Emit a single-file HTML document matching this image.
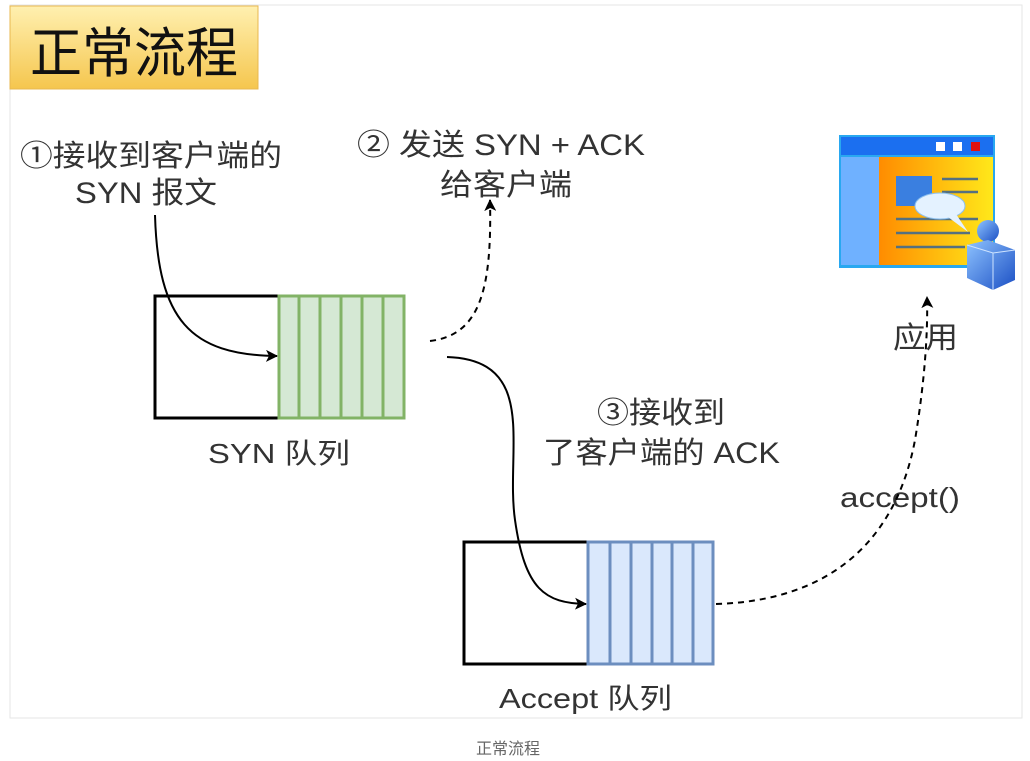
<!DOCTYPE html>
<html><head><meta charset="utf-8"><style>
html,body{margin:0;padding:0;background:#fff;width:1030px;height:761px;overflow:hidden}
svg{display:block}
text{font-family:"Liberation Sans","Noto Sans CJK SC",sans-serif;fill:#333}
</style></head><body>
<svg width="1030" height="761" viewBox="0 0 1030 761" xmlns="http://www.w3.org/2000/svg">
<defs>
<linearGradient id="tg" x1="0" y1="0" x2="0" y2="1"><stop offset="0" stop-color="#fff0b0"/><stop offset="1" stop-color="#f5c64e"/></linearGradient>
<linearGradient id="og" x1="0" y1="0" x2="1" y2="0"><stop offset="0" stop-color="#ff8c00"/><stop offset="1" stop-color="#ffe81a"/></linearGradient>
<linearGradient id="pg" x1="0" y1="0" x2="1" y2="1"><stop offset="0" stop-color="#8ec3ff"/><stop offset="1" stop-color="#1b4fc4"/></linearGradient>
<marker id="ah2" markerWidth="12" markerHeight="12" refX="11" refY="6" orient="auto" markerUnits="userSpaceOnUse"><path d="M0,0 L12,6 L0,12 L3,6 Z" fill="#000"/></marker>
</defs>
<rect x="10" y="5" width="1012" height="713" fill="#fff" stroke="#e6e6e6"/>
<rect x="10" y="6" width="248" height="83" fill="url(#tg)" stroke="#e8b850"/>
<text x="30" y="72" font-size="54" textLength="208" lengthAdjust="spacingAndGlyphs" style="fill:#111">正常流程</text>

<text x="20" y="166" font-size="30" textLength="262" lengthAdjust="spacingAndGlyphs">①接收到客户端的</text>
<text x="75" y="203" font-size="30" textLength="142" lengthAdjust="spacingAndGlyphs">SYN 报文</text>
<text x="357" y="155" font-size="30" textLength="288" lengthAdjust="spacingAndGlyphs">② 发送 SYN + ACK</text>
<text x="440" y="195" font-size="30" textLength="132" lengthAdjust="spacingAndGlyphs">给客户端</text>
<text x="893" y="348" font-size="30" textLength="65" lengthAdjust="spacingAndGlyphs">应用</text>
<text x="597" y="423" font-size="30" textLength="128" lengthAdjust="spacingAndGlyphs">③接收到</text>
<text x="543" y="463" font-size="30" textLength="237" lengthAdjust="spacingAndGlyphs">了客户端的 ACK</text>
<text x="840" y="507" font-size="28" textLength="120" lengthAdjust="spacingAndGlyphs">accept()</text>
<text x="208" y="463" font-size="28" textLength="142" lengthAdjust="spacingAndGlyphs">SYN 队列</text>
<text x="499" y="708" font-size="28" textLength="173" lengthAdjust="spacingAndGlyphs">Accept 队列</text>
<text x="476" y="754" font-size="16" style="fill:#666">正常流程</text>

<rect x="155" y="296" width="124" height="122" fill="#fff" stroke="#000" stroke-width="3"/>
<rect x="279" y="296" width="125" height="122" fill="#d5e8d4" stroke="#82b366" stroke-width="3"/>
<g stroke="#82b366" stroke-width="3">
<line x1="299" y1="296" x2="299" y2="418"/><line x1="320" y1="296" x2="320" y2="418"/><line x1="341" y1="296" x2="341" y2="418"/><line x1="362" y1="296" x2="362" y2="418"/><line x1="383" y1="296" x2="383" y2="418"/></g>
<rect x="464" y="542" width="124" height="122" fill="#fff" stroke="#000" stroke-width="3"/>
<rect x="588" y="542" width="125" height="122" fill="#dae8fc" stroke="#6c8ebf" stroke-width="3"/>
<g stroke="#6c8ebf" stroke-width="3">
<line x1="610" y1="542" x2="610" y2="664"/><line x1="631" y1="542" x2="631" y2="664"/><line x1="652" y1="542" x2="652" y2="664"/><line x1="672" y1="542" x2="672" y2="664"/><line x1="693" y1="542" x2="693" y2="664"/></g>

<path d="M155,215 C158,320 190,355 277,356" fill="none" stroke="#000" stroke-width="2" marker-end="url(#ah2)"/>
<path d="M430,341 C480,335 492,290 490,200" fill="none" stroke="#000" stroke-width="2" stroke-dasharray="6,5" marker-end="url(#ah2)"/>
<path d="M447,357 C540,360 505,450 515,520 C525,590 545,603 586,604" fill="none" stroke="#000" stroke-width="2" marker-end="url(#ah2)"/>
<path d="M716,604 C850,600 900,520 915,440 C925,380 928,330 927,297" fill="none" stroke="#000" stroke-width="2" stroke-dasharray="6,5" marker-end="url(#ah2)"/>

<rect x="839" y="135" width="156" height="133" fill="#29a8f0"/>
<rect x="841" y="137" width="152" height="18" fill="#1b6ff0"/>
<rect x="936" y="142" width="9" height="9" fill="#fff"/><rect x="953" y="142" width="9" height="9" fill="#fff"/><rect x="971" y="142" width="9" height="9" fill="#e01010"/>
<rect x="841" y="157" width="38" height="108" fill="#6fb1ff"/>
<rect x="879" y="157" width="114" height="108" fill="url(#og)"/>
<rect x="896" y="176" width="36" height="30" fill="#3a7fe0"/>
<g stroke="#557080" stroke-width="2.5"><line x1="942" y1="179" x2="978" y2="179"/><line x1="942" y1="192" x2="978" y2="192"/><line x1="896" y1="219" x2="978" y2="219"/><line x1="896" y1="233" x2="970" y2="233"/><line x1="896" y1="247" x2="965" y2="247"/></g>
<ellipse cx="940" cy="206" rx="25" ry="13" fill="#e4f2ff" stroke="#8dc0ee"/>
<path d="M948,217 L968,232 L956,214 Z" fill="#e4f2ff"/>
<circle cx="988" cy="231" r="11" fill="url(#pg)"/>
<path d="M967,245 L988,240 L1015,250 L1015,280 L993,290 L967,278 Z" fill="url(#pg)"/>
<path d="M967,245 L993,253 L1015,250 M993,253 L993,290" stroke="#cfe4ff" fill="none"/>
</svg>
</body></html>
